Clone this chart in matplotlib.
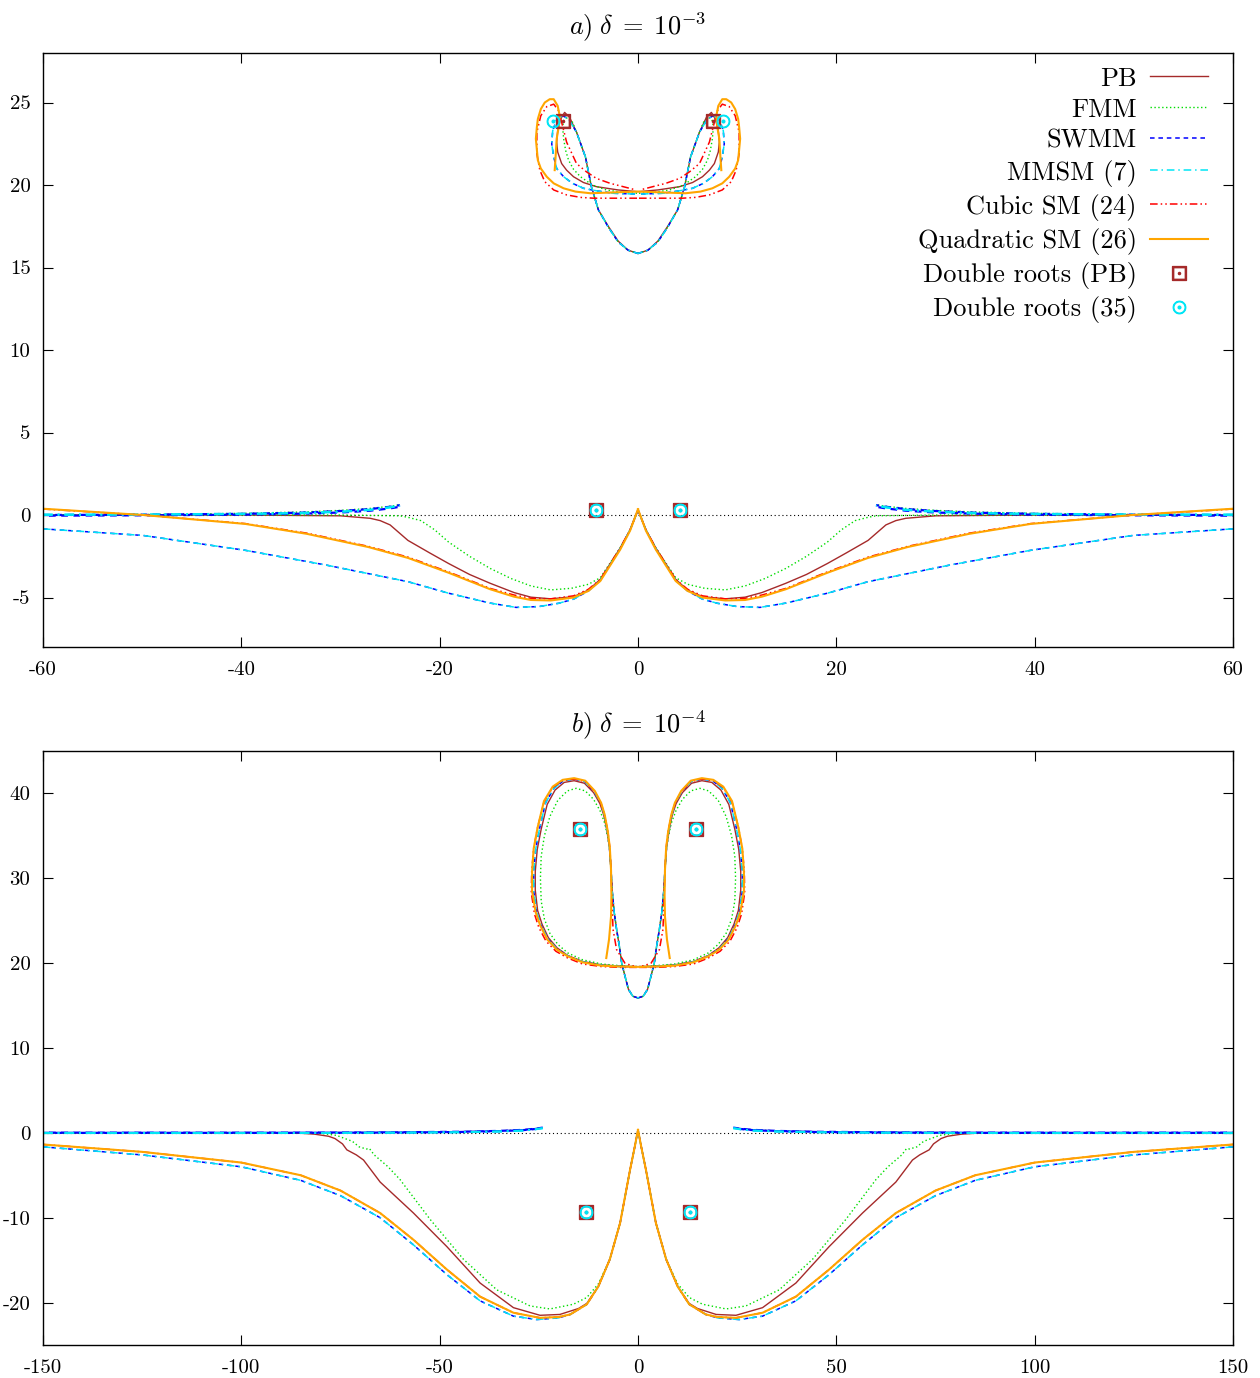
import numpy as np
import matplotlib
matplotlib.use('Agg')
import matplotlib.pyplot as plt

plt.rcParams['font.family'] = 'serif'
plt.rcParams['font.serif'] = ['cmr10']
plt.rcParams['mathtext.fontset'] = 'cm'
plt.rcParams['axes.unicode_minus'] = False

# ---------------- delta = 1e-3 (left halves, mirrored about x = 0) ----------------
# lower branches
a_pb_lo_x = [-60, -40, -30, -27, -26, -25, -23.2, -21, -19.1, -17, -14.9, -12.5, -10.8, -8.8, -6.5, -5.0, -3.8, -1.8, -0.8, 0]
a_pb_lo_y = [0, 0, -0.05, -0.2, -0.34, -0.6, -1.54, -2.3, -2.94, -3.6, -4.14, -4.7, -4.98, -5.08, -4.95, -4.55, -3.9, -2.0, -0.9, 0.3]
a_fmm_lo_x = [-60, -30, -24, -23.2, -21.9, -20.5, -19.1, -17, -14.9, -12.8, -10.8, -8.8, -6.7, -5.0, -3.8, -1.8, -0.8, 0]
a_fmm_lo_y = [0, 0, -0.05, -0.14, -0.34, -0.9, -1.64, -2.5, -3.24, -3.85, -4.3, -4.54, -4.44, -4.2, -3.8, -2.0, -0.9, 0.3]
a_sw_lo_x = [-60, -49.9, -39.6, -31.4, -23.2, -19.1, -14.9, -12.3, -10, -8.0, -6.5, -5.0, -3.8, -1.8, -0.8, 0]
a_sw_lo_y = [-0.84, -1.24, -2.14, -3.04, -4.04, -4.74, -5.34, -5.6, -5.55, -5.35, -5.1, -4.6, -3.95, -2.05, -0.9, 0.3]
a_quad_lo_x = [-60, -49.9, -39.6, -33.4, -27.2, -23.2, -19.1, -14.9, -12.5, -10.8, -8.8, -6.5, -5.0, -3.8, -1.8, -0.8, 0]
a_quad_lo_y = [0.38, 0, -0.54, -1.14, -1.94, -2.6, -3.5, -4.5, -4.95, -5.15, -5.18, -5.0, -4.6, -4.0, -2.1, -0.95, 0.35]
a_cub_lo_y = [0.36, 0, -0.52, -1.1, -1.9, -2.55, -3.45, -4.45, -4.85, -5.05, -5.08, -4.9, -4.5, -3.9, -2.0, -0.9, 0.3]
# branches close to zero ending near x = -24
a_zero_x = [-60, -50, -40, -34, -30, -27, -25, -24]
a_sw_zero_y = [0.0, 0.02, 0.07, 0.14, 0.24, 0.36, 0.5, 0.6]
a_sw_zero2_y = [-0.04, -0.02, 0.02, 0.08, 0.15, 0.26, 0.4, 0.5]
a_fmm_zero_y = [0.0, 0.03, 0.1, 0.18, 0.28, 0.4, 0.53, 0.62]
a_mm_zero_y = [0.0, 0.01, 0.05, 0.1, 0.18, 0.3, 0.45, 0.56]
a_mm_zero2_y = [0.04, 0.04, 0.08, 0.13, 0.21, 0.33, 0.48, 0.58]

# upper loops
a_pb_up_x = [-0.1, -2.0, -4.2, -5.5, -6.5, -7.2, -7.7, -8.1, -8.2, -8.1, -7.8, -7.4, -6.9, -6.2, -5.3, -4.7, -4.0, -3.0, -2.0, -1.0, 0]
a_pb_up_y = [19.6, 19.7, 19.9, 20.15, 20.5, 20.9, 21.3, 22.0, 22.6, 23.3, 24.0, 24.4, 24.1, 23.2, 21.7, 19.9, 18.5, 17.5, 16.6, 16.05, 15.85]
a_fmm_up_x = [-0.1, -1.5, -3.2, -4.6, -5.8, -6.5, -7.0, -7.3, -7.5, -7.6, -7.5, -7.1, -6.6, -6.2, -5.3, -4.7, -4.0, -3.0, -2.0, -1.0, 0]
a_fmm_up_y = [19.5, 19.55, 19.7, 20.0, 20.5, 20.95, 21.5, 22.1, 22.8, 23.5, 23.9, 24.1, 23.8, 23.2, 21.7, 19.9, 18.5, 17.45, 16.55, 16.05, 15.85]
a_sw_up_x = [-0.3, -2.5, -4.2, -5.5, -6.6, -7.5, -8.2, -8.5, -8.7, -8.6, -8.2, -7.6, -7.0, -6.2, -5.3, -4.7, -4.0, -3.0, -2.0, -1.0, 0]
a_sw_up_y = [19.45, 19.5, 19.65, 19.8, 20.1, 20.5, 21.0, 21.7, 22.5, 23.3, 23.95, 24.2, 24.0, 23.2, 21.7, 19.9, 18.5, 17.45, 16.55, 16.05, 15.85]
a_cub_up_x = [-0.1, -2.5, -4.5, -5.8, -7.2, -8.5, -9.4, -9.9, -10.2, -10.2, -9.8, -9.2, -8.5, -8.0, -7.7, -7.2, -6.2, -5.2, -4.2, -2.8, -1.5, -0.2]
a_cub_up_y = [19.2, 19.2, 19.2, 19.25, 19.4, 19.7, 20.2, 20.9, 21.9, 23.2, 24.2, 24.75, 24.9, 24.5, 23.8, 22.6, 21.3, 20.8, 20.4, 20.1, 19.9, 19.7]
a_quad_up_x = [-0.1, -2.5, -4.8, -6.3, -7.5, -8.5, -9.2, -9.8, -10.1, -10.3, -10.2, -10.1, -9.8, -9.4, -8.9, -8.5, -8.1, -7.9, -8.0, -8.2, -8.3, -8.4]
a_quad_up_y = [19.6, 19.55, 19.5, 19.6, 19.8, 20.1, 20.5, 21.0, 21.5, 22.8, 23.5, 24.0, 24.6, 25.0, 25.2, 25.2, 24.8, 24.2, 23.5, 22.8, 21.8, 20.9]

a_root_pb_x = [-7.6, 7.6, -4.2, 4.2]
a_root_pb_y = [23.85, 23.85, 0.3, 0.3]
a_root_35_x = [-8.55, 8.55, -4.2, 4.2]
a_root_35_y = [23.85, 23.85, 0.3, 0.3]

# ---------------- delta = 1e-4 ----------------
b_pb_lo_x = [-150, -100, -85, -81.6, -78, -76.4, -74.5, -73.4, -71, -69.2, -65, -56.6, -48.2, -39.8, -31.4, -24.7, -19.7, -15, -12.9, -10, -7.1, -4.5, -2.0, -0.8, 0]
b_pb_lo_y = [0, 0, -0.05, -0.15, -0.4, -0.67, -1.3, -2.0, -2.6, -3.2, -5.8, -9.45, -13.4, -17.7, -20.6, -21.5, -21.4, -20.7, -20.1, -18.1, -14.9, -10.6, -4.35, -1.6, 0.35]
b_fmm_lo_x = [-150, -90, -80, -76, -72, -70.3, -68.5, -67.7, -66.5, -63, -60, -52.4, -44, -35.6, -27.2, -22.2, -16.3, -12.9, -10, -7.1, -4.5, -2.0, -0.8, 0]
b_fmm_lo_y = [0, 0, -0.05, -0.3, -1.0, -1.65, -1.9, -1.85, -2.6, -4.0, -5.5, -10.2, -14.9, -18.5, -20.4, -20.75, -20.2, -19.4, -17.8, -14.9, -10.6, -4.35, -1.6, 0.35]
b_sw_lo_x = [-150, -125, -100, -85, -75, -65, -56.6, -48.2, -39.8, -31.4, -25.5, -20, -17.1, -12.9, -10, -7.1, -4.5, -2.0, -0.8, 0]
b_sw_lo_y = [-1.65, -2.6, -4.0, -5.6, -7.4, -10.0, -13.2, -16.7, -19.8, -21.6, -22.0, -21.8, -21.4, -20.2, -18.1, -14.9, -10.6, -4.35, -1.6, 0.35]
b_quad_lo_x = [-150, -125, -100, -85, -75, -65, -56.6, -48.2, -39.8, -31.4, -24.7, -20, -17.1, -12.9, -10, -7.1, -4.5, -2.0, -0.8, 0]
b_quad_lo_y = [-1.37, -2.24, -3.5, -5.0, -6.8, -9.45, -12.6, -16.1, -19.3, -21.2, -21.8, -21.7, -21.4, -20.2, -18.1, -14.9, -10.6, -4.35, -1.6, 0.35]
b_zero_x = [-150, -100, -80, -60, -45, -35, -29, -26, -24]
b_sw_zero_y = [0, 0, 0.01, 0.04, 0.1, 0.2, 0.32, 0.45, 0.6]
b_sw_zero2_y = [0.03, 0.03, 0.04, 0.07, 0.13, 0.23, 0.35, 0.48, 0.62]
b_fmm_zero_y = [0, 0, 0.02, 0.06, 0.13, 0.24, 0.36, 0.48, 0.62]
b_mm_zero_y = [0, 0, 0.0, 0.03, 0.08, 0.17, 0.28, 0.42, 0.56]
b_mm_zero2_y = [-0.03, -0.03, -0.02, 0.01, 0.06, 0.15, 0.26, 0.4, 0.54]

b_quad_up_x = [-0.3, -4.5, -9.2, -14, -17.7, -20.5, -22.9, -24.7, -25.8, -26.7, -26.7, -26.3, -25.3, -23.7, -21.5, -19, -16.1, -13.3, -10.9, -9.3, -8.4, -7.6, -7.1, -6.8, -6.7, -6.8, -7.3, -8.0]
b_quad_up_y = [19.55, 19.6, 19.7, 20.1, 20.8, 21.6, 22.8, 24.5, 26.0, 28.5, 30.8, 33.5, 36.0, 39.1, 40.8, 41.6, 41.8, 41.5, 40.3, 38.9, 37.5, 35.5, 33.6, 31.0, 28.0, 25.5, 22.8, 20.6]
b_cub_up_x = [-0.3, -4.5, -9.2, -14, -17.7, -20.7, -23.2, -25.0, -26.1, -26.9, -26.8, -26.3, -25.3, -23.7, -21.5, -19, -16.1, -13.3, -10.9, -9.3, -8.4, -7.6, -7.1, -6.8, -6.6, -6.3, -5.4, -3.3, -1.5, -0.3]
b_cub_up_y = [19.5, 19.5, 19.6, 19.9, 20.6, 21.4, 22.6, 24.2, 25.8, 28.3, 30.8, 33.5, 36.0, 39.0, 40.7, 41.5, 41.7, 41.4, 40.2, 38.8, 37.4, 35.5, 33.6, 31.0, 28.0, 24.0, 21.6, 20.0, 19.7, 19.6]
b_pb_up_x = [-0.3, -4.5, -9.2, -14, -17.7, -20.4, -22.6, -24.2, -25.3, -25.9, -25.9, -25.4, -24.4, -22.9, -20.9, -18.6, -16.1, -13.5, -11.2, -9.6, -8.6, -7.8, -7.2, -6.8, -6.5, -6.0, -5.4, -4.7, -4.1, -3.3, -2.4, -1.3, 0]
b_pb_up_y = [19.6, 19.65, 19.8, 20.2, 20.9, 21.8, 23.0, 24.6, 26.2, 28.6, 30.8, 33.4, 35.8, 38.7, 40.4, 41.3, 41.5, 41.2, 40.1, 38.8, 37.4, 35.5, 33.6, 31.0, 28.5, 26.0, 24.0, 22.0, 20.0, 18.5, 16.9, 16.1, 15.9]
b_sw_up_x = [-0.3, -4.5, -9.2, -14, -17.7, -20.5, -22.8, -24.5, -25.6, -26.3, -26.3, -25.8, -24.8, -23.3, -21.2, -18.8, -16.1, -13.4, -11.0, -9.4, -8.5, -7.7, -7.2, -6.8, -6.5, -6.0, -5.4, -4.7, -4.1, -3.3, -2.4, -1.3, 0]
b_sw_up_y = [19.55, 19.6, 19.75, 20.15, 20.85, 21.7, 22.9, 24.5, 26.1, 28.5, 30.8, 33.4, 35.9, 38.9, 40.6, 41.5, 41.7, 41.4, 40.2, 38.9, 37.5, 35.5, 33.6, 31.0, 28.5, 26.0, 24.0, 22.0, 20.0, 18.5, 16.9, 16.1, 15.9]
b_fmm_up_x = [-0.3, -4.5, -9.2, -14, -17.7, -20.2, -22.2, -23.6, -24.4, -24.6, -24.4, -23.6, -22.2, -20.2, -17.8, -15.6, -13.3, -11.2, -9.6, -8.4, -7.6, -7.1, -6.8, -6.5, -6.0, -5.4, -4.7, -4.1, -3.3, -2.4, -1.3, 0]
b_fmm_up_y = [19.6, 19.7, 19.9, 20.4, 21.2, 22.2, 23.5, 25.2, 27.3, 30.0, 32.6, 35.0, 37.3, 39.2, 40.3, 40.6, 40.3, 39.3, 38.0, 36.5, 34.8, 33.2, 31.0, 28.5, 26.0, 24.0, 22.0, 20.0, 18.5, 16.9, 16.1, 15.9]

b_root_x = [-14.5, 14.5, -13.0, 13.0]
b_root_y = [35.8, 35.8, -9.3, -9.3]

# line styles (gnuplot-like)
PB = dict(color='#a52a2a', lw=1.0, ls='-')
FMM = dict(color='#00dd00', lw=1.0, ls=(0, (1, 1.8)))
SWMM = dict(color='#0000ff', lw=1.1, ls=(0, (3, 2.5)))
MMSM = dict(color='#00e5f5', lw=1.1, ls=(0, (5, 2.5, 1, 2.5)))
CUB = dict(color='#ff0000', lw=1.1, ls=(0, (5, 2, 1, 2, 1, 2)))
QUAD = dict(color='#ffa500', lw=1.5, ls='-')
# near-zero branches are drawn heavier, with shifted dashes so that they overlap
SWMM_Z = dict(SWMM, lw=1.6)
SWMM_Z2 = dict(SWMM, lw=1.6, ls=(2.8, (3, 2.5)))
MMSM_Z = dict(MMSM, lw=1.4)


def both_sides(ax, xs, ys, style, label=None):
    xs = np.asarray(xs, dtype=float)
    ax.plot(xs, ys, label=label, **style)
    ax.plot(-xs, ys, **style)


def style_axes(ax, xlim, ylim, xticks, yticks):
    ax.set_xlim(*xlim)
    ax.set_ylim(*ylim)
    ax.set_xticks(xticks)
    ax.set_xticklabels([str(t) for t in xticks])
    ax.set_yticks(yticks)
    ax.set_yticklabels([str(t) for t in yticks])
    ax.tick_params(direction='in', length=7, width=0.8, top=True, right=True,
                   labelsize=15)
    ax.tick_params(axis='x', pad=10)
    ax.tick_params(axis='y', pad=9)
    for s in ax.spines.values():
        s.set_linewidth(1.0)
    ax.axhline(0, color='black', lw=0.8, ls=(0, (1, 2.5)), zorder=0)


fig = plt.figure(figsize=(12.6, 13.78), dpi=100)
W, H = 1260, 1378
ax1 = fig.add_axes([43 / W, 1 - 647 / H, 1190 / W, 594 / H])
ax2 = fig.add_axes([43 / W, 1 - 1345 / H, 1190 / W, 594 / H])

# ---- panel a ----
style_axes(ax1, (-60, 60), (-8, 28), [-60, -40, -20, 0, 20, 40, 60], [-5, 0, 5, 10, 15, 20, 25])
both_sides(ax1, a_pb_lo_x, a_pb_lo_y, PB, 'PB')
both_sides(ax1, a_pb_up_x, a_pb_up_y, PB)
both_sides(ax1, a_fmm_lo_x, a_fmm_lo_y, FMM, 'FMM')
both_sides(ax1, a_fmm_up_x, a_fmm_up_y, FMM)
both_sides(ax1, a_zero_x, a_fmm_zero_y, FMM)
both_sides(ax1, a_sw_lo_x, a_sw_lo_y, SWMM, 'SWMM')
both_sides(ax1, a_sw_up_x, a_sw_up_y, SWMM)
both_sides(ax1, a_zero_x, a_sw_zero_y, SWMM_Z)
both_sides(ax1, a_zero_x, a_sw_zero2_y, SWMM_Z2)
both_sides(ax1, a_sw_lo_x, a_sw_lo_y, MMSM, 'MMSM (7)')
both_sides(ax1, a_sw_up_x, a_sw_up_y, MMSM)
both_sides(ax1, a_zero_x, a_mm_zero_y, MMSM_Z)
both_sides(ax1, a_zero_x, a_mm_zero2_y, MMSM_Z)
both_sides(ax1, a_quad_lo_x, a_cub_lo_y, CUB, 'Cubic SM (24)')
both_sides(ax1, a_cub_up_x, a_cub_up_y, CUB)
both_sides(ax1, a_quad_lo_x, a_quad_lo_y, QUAD, 'Quadratic SM (26)')
both_sides(ax1, a_quad_up_x, a_quad_up_y, QUAD)
ax1.plot(a_root_pb_x, a_root_pb_y, ls='none', marker=r'$\boxdot$', ms=10,
         color='#a52a2a', label='Double roots (PB)')
ax1.plot(a_root_35_x, a_root_35_y, ls='none', marker=r'$\odot$', ms=9,
         color='#00e5f5', label='Double roots (35)')
ax1.set_title(r'$a)\;\delta\;=\;10^{-3}$', fontsize=19, pad=13)

leg = ax1.legend(loc='upper right', bbox_to_anchor=(1208 / W, 1 - 67 / H),
                 bbox_transform=fig.transFigure, frameon=False, markerfirst=False,
                 fontsize=19, handlelength=2.2, handletextpad=0.5,
                 labelspacing=0.27, borderpad=0, borderaxespad=0)

# ---- panel b ----
style_axes(ax2, (-150, 150), (-25, 45), [-150, -100, -50, 0, 50, 100, 150], [-20, -10, 0, 10, 20, 30, 40])
both_sides(ax2, b_pb_lo_x, b_pb_lo_y, PB)
both_sides(ax2, b_pb_up_x, b_pb_up_y, PB)
both_sides(ax2, b_fmm_lo_x, b_fmm_lo_y, FMM)
both_sides(ax2, b_fmm_up_x, b_fmm_up_y, FMM)
both_sides(ax2, b_zero_x, b_fmm_zero_y, FMM)
both_sides(ax2, b_sw_lo_x, b_sw_lo_y, SWMM)
both_sides(ax2, b_sw_up_x, b_sw_up_y, SWMM)
both_sides(ax2, b_zero_x, b_sw_zero_y, SWMM_Z)
both_sides(ax2, b_zero_x, b_sw_zero2_y, SWMM_Z2)
both_sides(ax2, b_sw_lo_x, b_sw_lo_y, MMSM)
both_sides(ax2, b_sw_up_x, b_sw_up_y, MMSM)
both_sides(ax2, b_zero_x, b_mm_zero_y, MMSM_Z)
both_sides(ax2, b_zero_x, b_mm_zero2_y, MMSM_Z)
both_sides(ax2, b_quad_lo_x, b_quad_lo_y, CUB)
both_sides(ax2, b_cub_up_x, b_cub_up_y, CUB)
both_sides(ax2, b_quad_lo_x, b_quad_lo_y, QUAD)
both_sides(ax2, b_quad_up_x, b_quad_up_y, QUAD)
ax2.plot(b_root_x, b_root_y, ls='none', marker=r'$\boxdot$', ms=10, color='#a52a2a')
ax2.plot(b_root_x, b_root_y, ls='none', marker=r'$\odot$', ms=9, color='#00e5f5')
ax2.set_title(r'$b)\;\delta\;=\;10^{-4}$', fontsize=19, pad=13)

fig.savefig('out.png', dpi=100)
